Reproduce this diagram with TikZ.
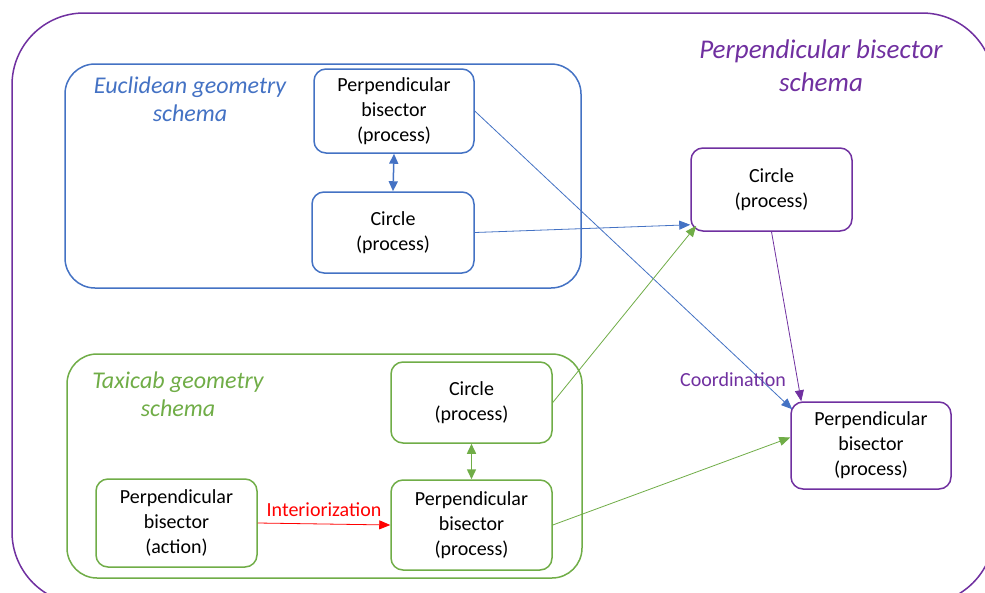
\documentclass[tikz,border=0pt]{standalone}
\usepackage{fontspec}
\setmainfont{Carlito}
\usetikzlibrary{arrows.meta,calc}
\definecolor{eublue}{HTML}{4472C4}
\definecolor{taxgreen}{HTML}{70AD47}
\definecolor{schpurple}{HTML}{7030A0}
\definecolor{intred}{HTML}{FF0000}
\tikzset{
  procbox/.style={draw=#1, line width=1.5pt, rounded corners=12pt, fill=white,
    align=center, inner sep=0pt, font=\fontsize{20}{25}\selectfont, text=black},
  container/.style={draw=#1, line width=1.5pt, rounded corners=30pt},
  schematitle/.style={text=#1, align=center, font=\fontsize{24}{28}\selectfont\itshape},
  link/.style={draw=#1, line width=0.8pt, -{Triangle[length=11pt,width=9pt]}},
  duallink/.style={draw=#1, line width=1.5pt, {Triangle[length=10pt,width=9pt]}-{Triangle[length=10pt,width=9pt]}},
}
\begin{document}
\begin{tikzpicture}[x=1pt,y=-1pt]
\useasboundingbox (0,0) rectangle (985,592);
\fill[white] (0,0) rectangle (985,592);

% outer schema frame
\draw[schpurple, line width=1.5pt, rounded corners=72pt] (12,13) rectangle (994,604);
\node[schematitle=schpurple, font=\fontsize{27}{33}\selectfont\itshape] (ptitle) at (821,65.5) {Perpendicular bisector\\schema};

% Euclidean geometry schema
\draw[container=eublue] (65,64) rectangle (581,288);
\node[schematitle=eublue] (etitle) at (190,99) {Euclidean geometry\\schema};
\node[procbox=eublue, minimum width=160pt, minimum height=84pt] (ePB) at (394,111) {Perpendicular\\bisector\\(process)};
\node[procbox=eublue, minimum width=162pt, minimum height=81pt] (eC) at (393,232.5) {Circle\\(process)};

% Taxicab geometry schema
\draw[container=taxgreen] (67,354) rectangle (582,578);
\node[schematitle=taxgreen] (ttitle) at (178,394.5) {Taxicab geometry\\schema};
\node[procbox=taxgreen, minimum width=161pt, minimum height=81pt] (tC) at (471.5,402.5) {Circle\\(process)};
\node[procbox=taxgreen, minimum width=161pt, minimum height=90pt] (tPB) at (471.5,525) {Perpendicular\\bisector\\(process)};
\node[procbox=taxgreen, minimum width=161pt, minimum height=88pt] (tA) at (176.5,523) {Perpendicular\\bisector\\(action)};

% coordinated schema
\node[procbox=schpurple, minimum width=161pt, minimum height=83pt] (pC) at (771.5,189.5) {Circle\\(process)};
\node[procbox=schpurple, minimum width=160pt, minimum height=87pt] (pPB) at (871,445.5) {Perpendicular\\bisector\\(process)};

% connectors
\draw[duallink=eublue] (ePB.south) -- (eC.north);
\draw[duallink=taxgreen] (tC.south) -- (tPB.north);
\draw[link=eublue] (ePB.east) -- ([xshift=2pt,yshift=-8pt]pPB.north west);
\draw[link=eublue] (eC.east) -- ([yshift=7pt]pC.south west);
\draw[link=taxgreen] (tC.east) -- ([xshift=6pt,yshift=6pt]pC.south west);
\draw[link=taxgreen] (tPB.east) -- ([yshift=8pt]pPB.west);
\draw[link=schpurple] (pC.south) -- ([xshift=11pt]pPB.north west);
\draw[link=intred] (tA.east) -- (tPB.west);

% labels
\node[text=schpurple, font=\fontsize{20}{25}\selectfont] (coord) at (733,380) {Coordination};
\node[text=intred, font=\fontsize{20}{25}\selectfont] (interior) at (324,510) {Interiorization};
\end{tikzpicture}
\end{document}
